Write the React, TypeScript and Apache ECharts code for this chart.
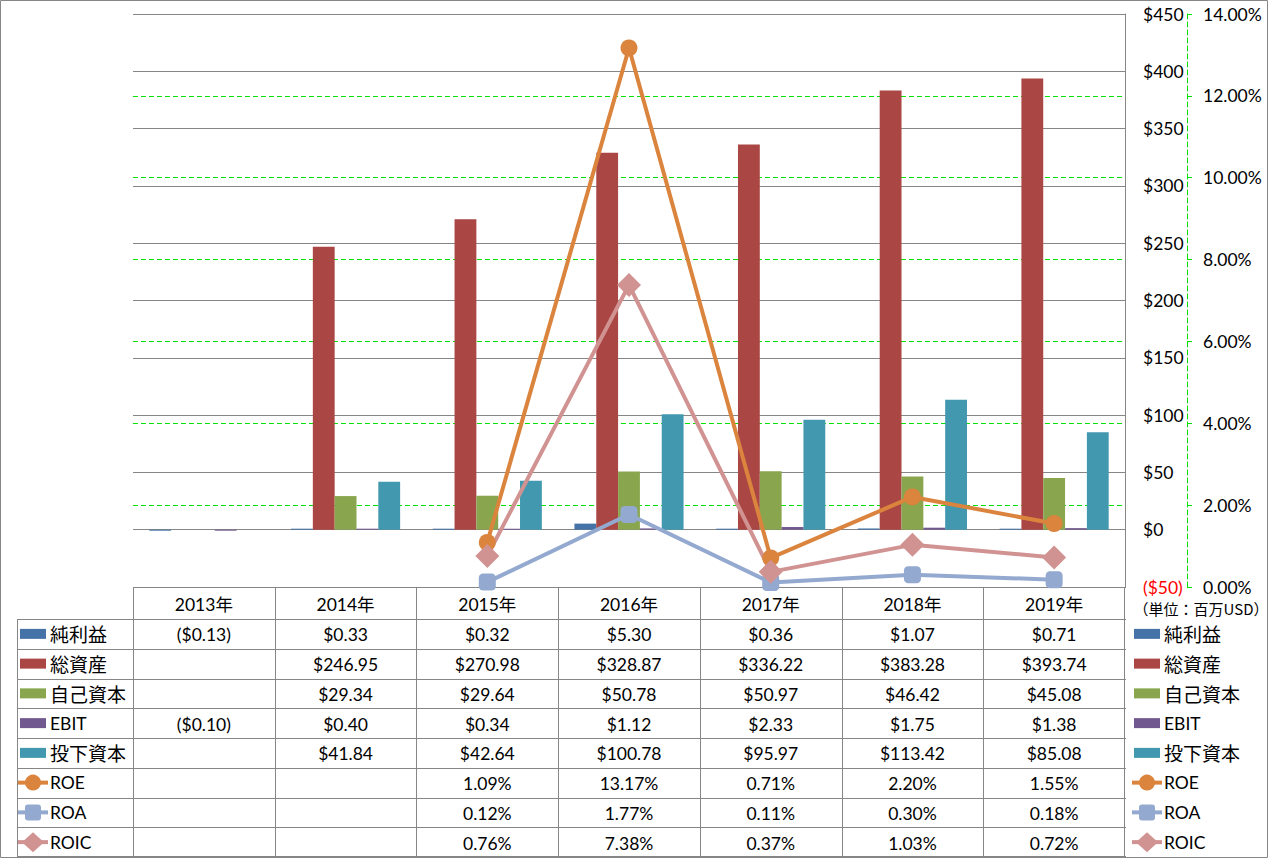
import React, { useEffect, useRef } from "react";
import * as echarts from "echarts";

const years = ["2013年", "2014年", "2015年", "2016年", "2017年", "2018年", "2019年"];
const netIncome = [-0.13, 0.33, 0.32, 5.3, 0.36, 1.07, 0.71];
const totalAssets = [null, 246.95, 270.98, 328.87, 336.22, 383.28, 393.74];
const equity = [null, 29.34, 29.64, 50.78, 50.97, 46.42, 45.08];
const ebit = [-0.1, 0.4, 0.34, 1.12, 2.33, 1.75, 1.38];
const investedCapital = [null, 41.84, 42.64, 100.78, 95.97, 113.42, 85.08];
const roe = [null, null, 1.09, 13.17, 0.71, 2.2, 1.55];
const roa = [null, null, 0.12, 1.77, 0.11, 0.3, 0.18];
const roic = [null, null, 0.76, 7.38, 0.37, 1.03, 0.72];

const dollarMin = -50;
const dollarMax = 450;
const dollarStep = 50;
const pctMin = 0;
const pctMax = 14;
const pctStep = 2;
const unitNote = "（単位：百万USD）";

type Row = {
  name: string;
  data: (number | null)[];
  color: string;
  kind: "bar" | "line";
  symbol?: string;
  symbolSize?: number;
};

const rows: Row[] = [
  { name: "純利益", data: netIncome, color: "#4572A7", kind: "bar" },
  { name: "総資産", data: totalAssets, color: "#AA4643", kind: "bar" },
  { name: "自己資本", data: equity, color: "#89A54E", kind: "bar" },
  { name: "EBIT", data: ebit, color: "#71588F", kind: "bar" },
  { name: "投下資本", data: investedCapital, color: "#4198AF", kind: "bar" },
  { name: "ROE", data: roe, color: "#DB843D", kind: "line", symbol: "circle", symbolSize: 17 },
  { name: "ROA", data: roa, color: "#93A9CF", kind: "line", symbol: "roundRect", symbolSize: 17 },
  { name: "ROIC", data: roic, color: "#D19392", kind: "line", symbol: "diamond", symbolSize: 24 },
];

const W = 1269;
const H = 858;
const plotL = 133;
const plotR = 1125;
const plotT = 14;
const plotB = 587;
const headerB = 619;
const rowH = 29.75;
const tableLeft = 17;
const GRAY = "#868686";
const GREEN = "#00E000";
const FONT = "Lato, 'Noto Sans CJK JP', sans-serif";
const CJK_FONT = "'Noto Sans CJK JP', sans-serif";
const NUM_SIZE = 17.5;

const fmtMoney = (v: number) => (v < 0 ? `($${(-v).toFixed(2)})` : `$${v.toFixed(2)}`);
const fmtPct = (v: number) => `${v.toFixed(2)}%`;
const isCJK = (s: string) => /[^\x00-\x7F]/.test(s);

function crisp(v: number) {
  return Math.round(v) + 0.5;
}

function legendKey(row: Row, x0: number, yc: number): any[] {
  const els: any[] = [];
  if (row.kind === "bar") {
    els.push({
      type: "rect",
      shape: { x: x0 + 2, y: yc - 5, width: 26, height: 10 },
      style: { fill: row.color },
      silent: true,
    });
  } else {
    const cx = x0 + 15;
    els.push({
      type: "line",
      shape: { x1: x0, y1: yc, x2: x0 + 30, y2: yc },
      style: { stroke: row.color, lineWidth: 4 },
      silent: true,
    });
    if (row.symbol === "circle") {
      els.push({ type: "circle", shape: { cx, cy: yc, r: 8 }, style: { fill: row.color }, silent: true });
    } else if (row.symbol === "roundRect") {
      els.push({
        type: "rect",
        shape: { x: cx - 8, y: yc - 8, width: 16, height: 16, r: 3 },
        style: { fill: row.color },
        silent: true,
      });
    } else {
      els.push({
        type: "polygon",
        shape: { points: [[cx, yc - 10], [cx + 11, yc], [cx, yc + 10], [cx - 11, yc]] },
        style: { fill: row.color },
        silent: true,
      });
    }
  }
  els.push({
    type: "text",
    x: x0 + 32,
    y: yc,
    style: {
      text: row.name,
      fill: "#000",
      fontSize: isCJK(row.name) ? 19 : NUM_SIZE,
      fontFamily: isCJK(row.name) ? CJK_FONT : FONT,
      align: "left",
      verticalAlign: "middle",
    },
    silent: true,
  });
  return els;
}

function buildGraphic(): any[] {
  const els: any[] = [];
  const colW = (plotR - plotL) / years.length;
  const lineStyle = { stroke: GRAY, lineWidth: 1 };
  els.push({
    type: "rect",
    shape: { x: 0.5, y: 0.5, width: W - 2, height: H - 1 },
    style: { fill: "none", stroke: GRAY, lineWidth: 1 },
    silent: true,
    z: 0,
  });
  els.push({
    type: "line",
    shape: { x1: plotL, y1: crisp(plotB), x2: plotR + 1, y2: crisp(plotB) },
    style: lineStyle,
    silent: true,
  });
  for (let i = 0; i <= rows.length; i++) {
    const y = crisp(headerB + rowH * i - (i === rows.length ? 1 : 0));
    els.push({
      type: "line",
      shape: { x1: tableLeft, y1: y, x2: plotR + 1, y2: y },
      style: lineStyle,
      silent: true,
    });
  }
  const tableBottom = headerB + rowH * rows.length;
  els.push({
    type: "line",
    shape: { x1: crisp(tableLeft), y1: headerB, x2: crisp(tableLeft), y2: tableBottom },
    style: lineStyle,
    silent: true,
  });
  for (let j = 0; j <= years.length; j++) {
    const x = crisp(plotL + colW * j - (j === years.length ? 1 : 0));
    els.push({
      type: "line",
      shape: { x1: x, y1: plotB, x2: x, y2: tableBottom },
      style: lineStyle,
      silent: true,
    });
  }
  years.forEach((yr, j) => {
    els.push({
      type: "text",
      x: plotL + colW * (j + 0.5),
      y: (plotB + headerB) / 2 + 1,
      style: { text: yr, fill: "#000", fontSize: NUM_SIZE, fontFamily: FONT, align: "center", verticalAlign: "middle" },
      silent: true,
    });
  });
  rows.forEach((row, i) => {
    const yc = headerB + rowH * (i + 0.5);
    els.push(...legendKey(row, tableLeft + 1, yc));
    els.push(...legendKey(row, 1132, yc));
    row.data.forEach((v, j) => {
      if (v === null || v === undefined) return;
      els.push({
        type: "text",
        x: plotL + colW * (j + 0.5),
        y: yc + 1,
        style: {
          text: row.kind === "bar" ? fmtMoney(v) : fmtPct(v),
          fill: "#000",
          fontSize: NUM_SIZE,
          fontFamily: FONT,
          align: "center",
          verticalAlign: "middle",
        },
        silent: true,
      });
    });
  });
  els.push({
    type: "text",
    x: 1201,
    y: 608,
    style: { text: unitNote, fill: "#000", fontSize: 15, fontFamily: CJK_FONT, align: "center", verticalAlign: "middle" },
    silent: true,
  });
  return els;
}

export default function App() {
  const ref = useRef<HTMLDivElement>(null);
  useEffect(() => {
    if (!ref.current) return;
    const chart = echarts.init(ref.current, undefined, { renderer: "svg" });
    const series: any[] = rows.map((row) =>
      row.kind === "bar"
        ? {
            type: "bar",
            name: row.name,
            data: row.data,
            yAxisIndex: 0,
            itemStyle: { color: row.color },
            barGap: "0%",
            barCategoryGap: "23%",
            barMinHeight: 1,
            z: 2,
          }
        : {
            type: "line",
            name: row.name,
            data: row.data,
            yAxisIndex: 1,
            symbol: row.symbol,
            symbolSize: row.symbolSize,
            showSymbol: true,
            lineStyle: { color: row.color, width: 4 },
            itemStyle: { color: row.color },
            z: 5,
            clip: false,
          }
    );
    chart.setOption({
      animation: false,
      backgroundColor: "#fff",
      grid: { left: plotL, top: plotT, width: plotR - plotL, height: plotB - plotT, containLabel: false },
      xAxis: {
        type: "category",
        data: years,
        axisLine: { show: false },
        axisTick: { show: false },
        axisLabel: { show: false },
        splitLine: { show: false },
      },
      yAxis: [
        {
          type: "value",
          position: "right",
          z: 1,
          min: dollarMin,
          max: dollarMax,
          interval: dollarStep,
          axisLine: { show: true, lineStyle: { color: GRAY, width: 1 } },
          axisTick: { show: false },
          splitLine: { show: true, lineStyle: { color: GRAY, width: 1, type: "solid" } },
          axisLabel: {
            margin: 18,
            fontSize: NUM_SIZE,
            fontFamily: FONT,
            color: (v: any) => (Number(v) < 0 ? "#FF0000" : "#000"),
            formatter: (v: number) => (v < 0 ? `($${-v})` : `$${v}`),
          },
        },
        {
          type: "value",
          position: "right",
          z: 0,
          offset: 62,
          min: pctMin,
          max: pctMax,
          interval: pctStep,
          axisLine: { show: true, lineStyle: { color: GREEN, width: 1, type: [5, 3] } },
          axisTick: { show: true, inside: false, length: 5, lineStyle: { color: GREEN, width: 1 } },
          splitLine: { show: true, lineStyle: { color: GREEN, width: 1, type: [5, 3] } },
          axisLabel: {
            margin: 16,
            fontSize: NUM_SIZE,
            fontFamily: FONT,
            color: "#000",
            formatter: (v: number) => `${v.toFixed(2)}%`,
          },
        },
      ],
      legend: { show: false },
      tooltip: { show: false },
      series,
      graphic: { elements: buildGraphic() },
    });
    return () => chart.dispose();
  }, []);
  return <div ref={ref} style={{ position: "absolute", left: 0, top: 0, width: W, height: H }} />;
}
